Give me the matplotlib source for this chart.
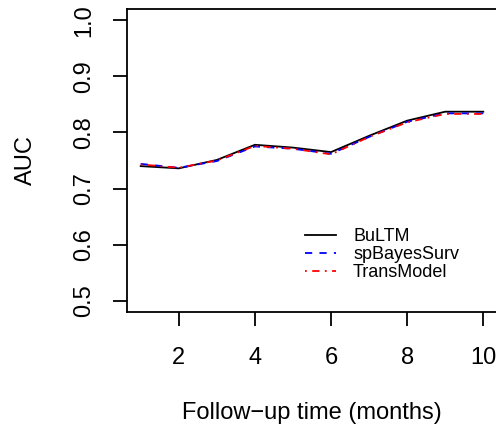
import matplotlib.pyplot as plt

plt.rcParams['font.family'] = ['Liberation Sans', 'DejaVu Sans']

months = [1, 2, 3, 4, 5, 6, 7, 8, 9, 10]
auc_bultm = [0.740, 0.736, 0.751, 0.778, 0.773, 0.765, 0.794, 0.821, 0.837, 0.837]
auc_spbayes = [0.744, 0.737, 0.749, 0.775, 0.771, 0.762, 0.792, 0.819, 0.834, 0.834]
auc_transmodel = [0.743, 0.737, 0.750, 0.776, 0.771, 0.761, 0.792, 0.818, 0.833, 0.833]

xticks = [2, 4, 6, 8, 10]
yticks = [0.5, 0.6, 0.7, 0.8, 0.9, 1.0]

fig = plt.figure(figsize=(4.96, 4.32), dpi=100)
ax = fig.add_axes([127 / 496, 1 - 312 / 432, 370 / 496, 303 / 432])

lw = 1.3
ax.plot(months, auc_bultm, color='black', lw=lw, label='BuLTM')
ax.plot(months, auc_spbayes, color='blue', lw=lw, linestyle=(0, (4, 4)), label='spBayesSurv')
ax.plot(months, auc_transmodel, color='red', lw=lw, linestyle=(0, (1, 3, 4, 3)), label='TransModel')

# R-style 4% padding around the data range
ax.set_xlim(0.64, 10.36)
ax.set_ylim(0.48, 1.02)
ax.set_xticks(xticks)
ax.set_yticks(yticks)
ax.set_xticklabels([str(t) for t in xticks])
ax.set_yticklabels([f'{t:.1f}' for t in yticks], rotation=90, va='center')

for s in ax.spines.values():
    s.set_linewidth(lw)
ax.tick_params(axis='both', length=10, width=lw, labelsize=17)
ax.tick_params(axis='x', pad=15)
ax.tick_params(axis='y', pad=13)

ax.set_xlabel('Follow\u2212up time (months)', fontsize=17, va='center')
ax.xaxis.set_label_coords(0.5, -101 / 303)
ax.set_ylabel('AUC', fontsize=17, va='center')
ax.yaxis.set_label_coords(-101 / 370, 0.5)

ax.legend(loc='upper left', bbox_to_anchor=(0.462, 0.30), frameon=False,
          fontsize=13, handlelength=1.7, handletextpad=0.95, labelspacing=0.05,
          borderaxespad=0)

fig.savefig('out.png', dpi=100)
